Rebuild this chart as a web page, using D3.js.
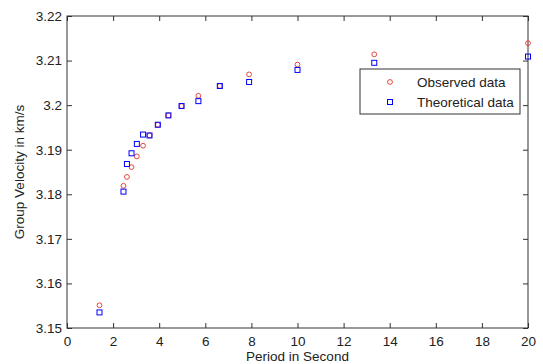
<!DOCTYPE html>
<html>
<head>
<meta charset="utf-8">
<script src="https://cdn.jsdelivr.net/npm/d3@7"></script>
<style>
  body { margin: 0; background: #fff; }
  svg text { font-family: "Liberation Sans", Arial, sans-serif; fill: #222; }
</style>
</head>
<body>
<div class="svg-container"></div>
<script>
// Periods (s) and group velocities (km/s)
var periods = [1.41, 2.45, 2.6, 2.8, 3.03, 3.3, 3.58, 3.94, 4.4, 4.97, 5.7, 6.63, 7.9, 10, 13.33, 20];
var observed = [3.1551, 3.1819, 3.1839, 3.1861, 3.1885, 3.1909, 3.1932, 3.1956, 3.1977, 3.1998, 3.2021, 3.2043, 3.2069, 3.2091, 3.2114, 3.2139];
var theoretical = [3.1535, 3.1806, 3.1868, 3.1892, 3.1913, 3.1934, 3.1932, 3.1956, 3.1977, 3.1998, 3.2009, 3.2043, 3.2052, 3.2079, 3.2095, 3.2109];
var xTicks = [0, 2, 4, 6, 8, 10, 12, 14, 16, 18, 20];
var yTicks = [3.15, 3.16, 3.17, 3.18, 3.19, 3.2, 3.21, 3.22];
var legendLabels = ['Observed data', 'Theoretical data'];

var width = 543;
var height = 364;
var margin = {top: 16, right: 15, bottom: 36, left: 67};
var innerW = width - margin.left - margin.right;
var innerH = height - margin.top - margin.bottom;

var svg = d3.select('.svg-container')
	.append('svg')
	.attr('width', width)
	.attr('height', height);

var g = svg.append('g')
	.attr('transform', 'translate(' + margin.left + ',' + margin.top + ')');

// Scales
var xScale = d3.scaleLinear().domain([0, 20]).range([0, innerW]);
var yScale = d3.scaleLinear().domain([3.15, 3.22]).range([innerH, 0]);

// Axes, ticks pointing inward on all four sides
var fmt = function(d) { return String(+d.toFixed(2)); };

g.append('g')
	.attr('transform', 'translate(0,' + innerH + ')')
	.call(d3.axisBottom(xScale).tickValues(xTicks).tickFormat(fmt)
		.tickSizeInner(-5).tickSizeOuter(0).tickPadding(8));
g.append('g')
	.call(d3.axisTop(xScale).tickValues(xTicks).tickFormat('')
		.tickSizeInner(-5).tickSizeOuter(0));
g.append('g')
	.call(d3.axisLeft(yScale).tickValues(yTicks).tickFormat(fmt)
		.tickSizeInner(-5).tickSizeOuter(0).tickPadding(5));
g.append('g')
	.attr('transform', 'translate(' + innerW + ',0)')
	.call(d3.axisRight(yScale).tickValues(yTicks).tickFormat('')
		.tickSizeInner(-5).tickSizeOuter(0));

g.selectAll('.domain').remove();
g.selectAll('.tick line').attr('stroke', '#333');
g.selectAll('.tick text').style('font-size', '13.5px').attr('fill', '#222');

// Frame
g.append('rect')
	.attr('width', innerW)
	.attr('height', innerH)
	.attr('fill', 'none')
	.attr('stroke', '#333')
	.attr('stroke-width', 1);

// Observed data: red circles
g.selectAll('circle.obs')
	.data(periods.map(function(p, i) { return [p, observed[i]]; }))
	.enter()
	.append('circle')
	.attr('class', 'obs')
	.attr('cx', function(d) { return xScale(d[0]); })
	.attr('cy', function(d) { return yScale(d[1]); })
	.attr('r', 2.4)
	.attr('fill', 'none')
	.attr('stroke', '#e8453c')
	.attr('stroke-width', 1);

// Theoretical data: blue squares
var sq = 5;
g.selectAll('rect.theo')
	.data(periods.map(function(p, i) { return [p, theoretical[i]]; }))
	.enter()
	.append('rect')
	.attr('class', 'theo')
	.attr('x', function(d) { return xScale(d[0]) - sq / 2; })
	.attr('y', function(d) { return yScale(d[1]) - sq / 2; })
	.attr('width', sq)
	.attr('height', sq)
	.attr('fill', 'none')
	.attr('stroke', '#0000ff')
	.attr('stroke-width', 1);

// Legend
var legend = svg.append('g').attr('transform', 'translate(360,69)');
legend.append('rect')
	.attr('width', 160)
	.attr('height', 45)
	.attr('fill', '#fff')
	.attr('stroke', '#333');
legend.append('circle')
	.attr('cx', 30).attr('cy', 13).attr('r', 2.4)
	.attr('fill', 'none').attr('stroke', '#e8453c');
legend.append('rect')
	.attr('x', 30 - sq / 2).attr('y', 33 - sq / 2)
	.attr('width', sq).attr('height', sq)
	.attr('fill', 'none').attr('stroke', '#0000ff');
legend.selectAll('text')
	.data(legendLabels)
	.enter()
	.append('text')
	.attr('x', 57)
	.attr('y', function(d, i) { return 17.5 + i * 20; })
	.style('font-size', '13.5px')
	.text(function(d) { return d; });

// Axis titles
svg.append('text')
	.attr('x', margin.left + innerW / 2)
	.attr('y', 361)
	.attr('text-anchor', 'middle')
	.style('font-size', '13.5px')
	.text('Period in Second');

svg.append('text')
	.attr('transform', 'translate(24,' + (margin.top + innerH / 2) + ') rotate(-90)')
	.attr('text-anchor', 'middle')
	.style('font-size', '13.5px')
	.text('Group Velocity in km/s');
</script>
</body>
</html>
